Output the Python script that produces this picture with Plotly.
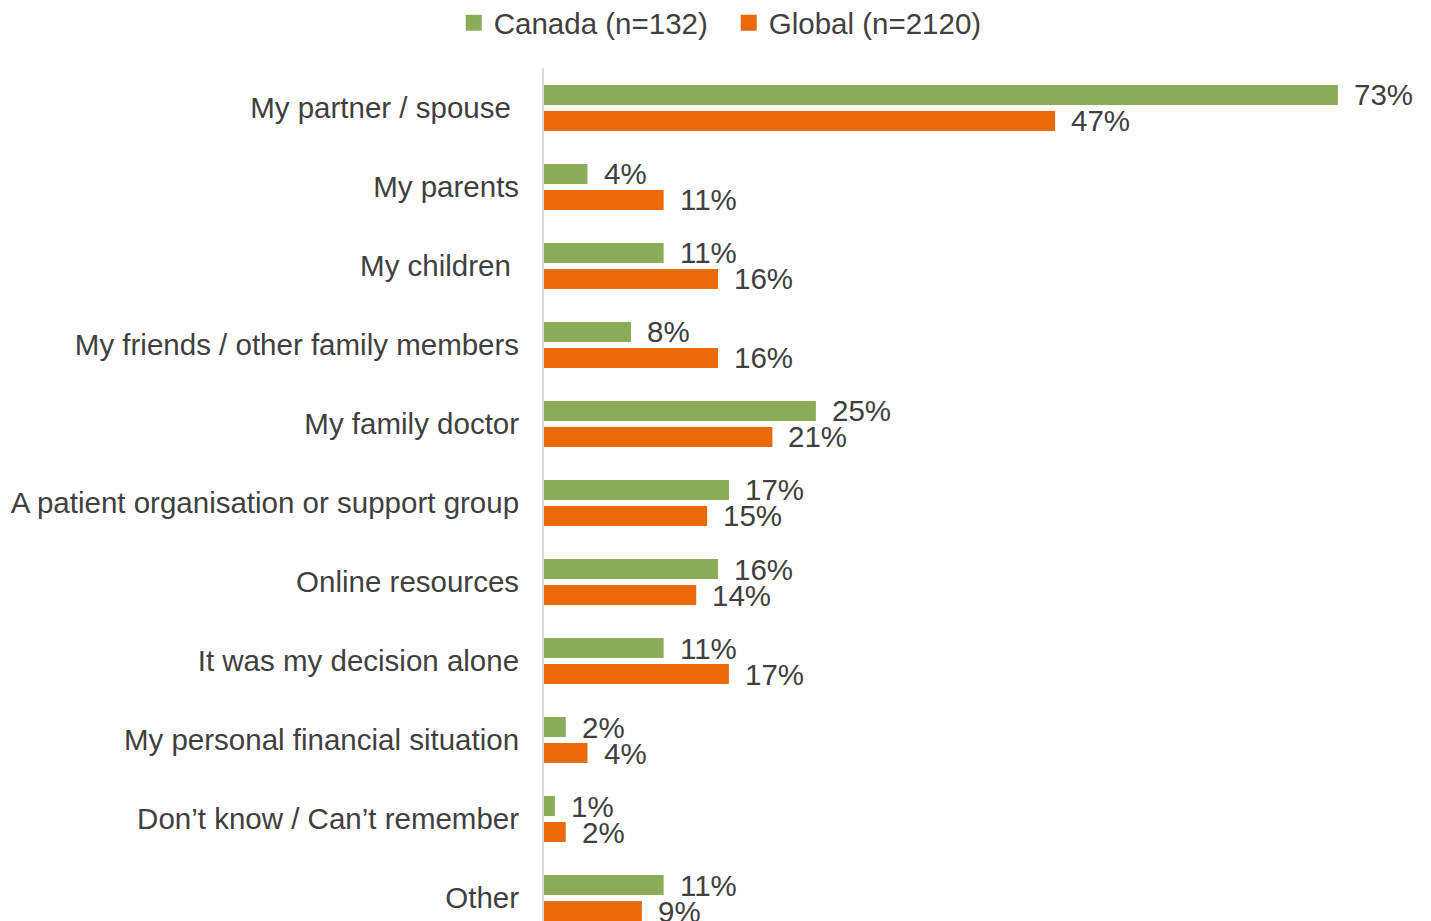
import plotly.graph_objects as go

categories = [
    "My partner / spouse\u00a0",
    "My parents",
    "My children\u00a0",
    "My friends / other family members",
    "My family doctor",
    "A patient organisation or support group",
    "Online resources",
    "It was my decision alone",
    "My personal financial situation",
    "Don\u2019t know / Can\u2019t remember",
    "Other",
]
canada = [73, 4, 11, 8, 25, 17, 16, 11, 2, 1, 11]
global_ = [47, 11, 16, 16, 21, 15, 14, 17, 4, 2, 9]
series_names = ["Canada (n=132)", "Global (n=2120)"]
colors = ["#8BAD5A", "#EB6909"]

FONT = "Liberation Sans, Arial, sans-serif"
TXT = "#404040"
FS = 29.5

fig = go.Figure()
for name, vals, col in zip(series_names, [canada, global_], colors):
    fig.add_trace(go.Bar(
        y=categories, x=vals, name=name, orientation="h",
        marker=dict(color=col, line=dict(width=0)),
        hoverinfo="x+y", showlegend=False,
    ))
# legend entries with larger square symbols
for name, col in zip(series_names, colors):
    fig.add_trace(go.Scatter(
        x=[None], y=[None], mode="markers", name=name,
        marker=dict(symbol="square", size=16, color=col),
        showlegend=True,
    ))

annotations = []
for vals, shift in [(canada, 13), (global_, -13)]:
    for cat, v in zip(categories, vals):
        annotations.append(dict(
            x=v, y=cat, xref="x", yref="y", text=f"{v}%",
            showarrow=False, xanchor="left", yanchor="middle",
            xshift=14, yshift=shift,
            font=dict(family=FONT, size=FS, color=TXT),
        ))

fig.update_layout(
    width=1423, height=913,
    margin=dict(l=536, r=17, t=60, b=0),
    paper_bgcolor="white", plot_bgcolor="white",
    barmode="group", bargap=0.342, bargroupgap=0.23,
    font=dict(family=FONT, size=FS, color=TXT),
    showlegend=True,
    legend=dict(
        orientation="h", xref="container", yref="container",
        x=0.5065, xanchor="center", y=1 - 15 / 913, yanchor="middle",
        font=dict(family=FONT, size=FS, color=TXT),
        itemwidth=30, tracegroupgap=0, entrywidth=230,
    ),
    annotations=annotations,
    xaxis=dict(range=[0, 80], autorange=False, visible=False,
               showgrid=False, zeroline=False),
    yaxis=dict(
        type="category", range=[10.291, -0.506], autorange=False,
        showline=True, linecolor="#D9D9D9", linewidth=2,
        showgrid=False, ticks="", ticklabelstandoff=17,
        tickfont=dict(family=FONT, size=FS, color=TXT),
    ),
)

fig.write_html("out.html")
